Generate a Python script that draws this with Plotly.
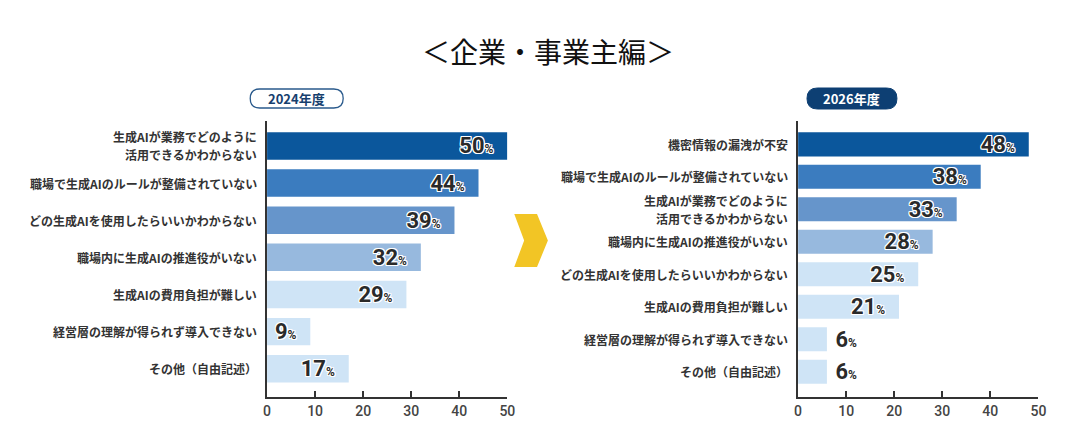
import plotly.graph_objects as go

# ---------------- data ----------------
title_text = "＜企業・事業主編＞"
badge_2024 = "2024年度"
badge_2026 = "2026年度"

cats_2024 = [
    "生成AIが業務でどのように<br>活用できるかわからない",
    "職場で生成AIのルールが整備されていない",
    "どの生成AIを使用したらいいかわからない",
    "職場内に生成AIの推進役がいない",
    "生成AIの費用負担が難しい",
    "経営層の理解が得られず導入できない",
    "その他（自由記述）",
]
vals_2024 = [50, 44, 39, 32, 29, 9, 17]

cats_2026 = [
    "機密情報の漏洩が不安",
    "職場で生成AIのルールが整備されていない",
    "生成AIが業務でどのように<br>活用できるかわからない",
    "職場内に生成AIの推進役がいない",
    "どの生成AIを使用したらいいかわからない",
    "生成AIの費用負担が難しい",
    "経営層の理解が得られず導入できない",
    "その他（自由記述）",
]
vals_2026 = [48, 38, 33, 28, 25, 21, 6, 6]

x_ticks = [0, 10, 20, 30, 40, 50]

# ---------------- style ----------------
W, H = 1080, 441
JP = "Noto Sans CJK JP"
NUM = "Roboto"
shade = ["#0b579c", "#3b7cbf", "#6695cb", "#97b9de", "#cfe4f6", "#cfe4f6", "#cfe4f6", "#cfe4f6"]
outline = ("1px 1px 0 #fff, -1px -1px 0 #fff, 1px -1px 0 #fff, -1px 1px 0 #fff, "
           "0 1px 0 #fff, 0 -1px 0 #fff, 1px 0 0 #fff, -1px 0 0 #fff")
LINE_GAP = 18  # px between lines of a wrapped category label


def px(x):
    return x / W


def py(y):
    return 1 - y / H


def label(v):
    return f"<b>{v}</b><span style='font-size:12px'><b>%</b></span>  "


def pill(x0, x1, y0, y1):
    r = (y1 - y0) / 2
    pts = [
        f"M {px(x0 + r)} {py(y0)}",
        f"L {px(x1 - r)} {py(y0)}",
        f"Q {px(x1)} {py(y0)} {px(x1)} {py(y0 + r)}",
        f"Q {px(x1)} {py(y1)} {px(x1 - r)} {py(y1)}",
        f"L {px(x0 + r)} {py(y1)}",
        f"Q {px(x0)} {py(y1)} {px(x0)} {py(y0 + r)}",
        f"Q {px(x0)} {py(y0)} {px(x0 + r)} {py(y0)} Z",
    ]
    return " ".join(pts)


fig = go.Figure()

for vals, cats, xa, ya in [
    (vals_2024, cats_2024, "x", "y"),
    (vals_2026, cats_2026, "x2", "y2"),
]:
    fig.add_trace(go.Bar(
        x=vals,
        y=cats,
        orientation="h",
        xaxis=xa,
        yaxis=ya,
        marker=dict(color=shade[:len(vals)], line=dict(width=0)),
        text=[label(v) if v >= 8 else " " + label(v) for v in vals],
        textposition=["inside" if v >= 8 else "outside" for v in vals],
        insidetextanchor="end",
        constraintext="none",
        textangle=0,
        textfont=dict(family=NUM, size=22, color="#2a2a2a", shadow=outline),
        cliponaxis=False,
        hoverinfo="skip",
        width=0.74,
    ))
    # category labels (one annotation per line, for controlled line spacing)
    for c in cats:
        lines = c.split("<br>")
        n = len(lines)
        for i, ln in enumerate(lines):
            fig.add_annotation(
                text=ln, x=0, y=c, xref=xa, yref=ya,
                xanchor="right", yanchor="middle", xshift=-8,
                yshift=((n - 1) / 2 - i) * LINE_GAP,
                showarrow=False,
                font=dict(family=JP, size=12, color="#333333", weight=600),
            )

ax_common = dict(
    range=[0, 50],
    tickvals=x_ticks,
    ticks="inside",
    ticklen=6,
    tickwidth=2,
    tickcolor="#333333",
    showline=True,
    linewidth=2,
    linecolor="#333333",
    showgrid=False,
    zeroline=False,
    tickfont=dict(family=NUM, size=14, color="#444444", weight=500),
    fixedrange=True,
)
ay_common = dict(
    showline=True,
    linewidth=2,
    linecolor="#333333",
    showgrid=False,
    zeroline=False,
    ticks="",
    showticklabels=False,
    fixedrange=True,
)

fig.update_layout(
    width=W,
    height=H,
    margin=dict(l=0, r=0, t=0, b=0),
    paper_bgcolor="white",
    plot_bgcolor="white",
    showlegend=False,
    barmode="overlay",
    xaxis=dict(domain=[px(266), px(509)], anchor="y", **ax_common),
    xaxis2=dict(domain=[px(803), px(1046)], anchor="y2", **ax_common),
    yaxis=dict(domain=[py(397), py(121)], anchor="x", range=[6.76, -0.67], **ay_common),
    yaxis2=dict(domain=[py(397), py(121)], anchor="x2", range=[7.78, -0.72], **ay_common),
)

# title
fig.add_annotation(
    text=title_text, x=px(550), y=py(51), xref="paper", yref="paper",
    showarrow=False, xanchor="center", yanchor="middle",
    font=dict(family=JP, size=28, color="#111111"),
)

# badges
fig.add_shape(type="path", path=pill(249, 343, 89, 108), xref="paper", yref="paper",
              line=dict(color="#2a5a8c", width=1.3), fillcolor="white", layer="above")
fig.add_annotation(text=f"<b>{badge_2024}</b>", x=px(296), y=py(98.5), xref="paper", yref="paper",
                   xanchor="center", yanchor="middle",
                   showarrow=False, font=dict(family=JP, size=13, color="#16406e"))
fig.add_shape(type="path", path=pill(812, 903, 88, 109), xref="paper", yref="paper",
              line=dict(color="#0d3f73", width=1), fillcolor="#0d3f73", layer="above")
fig.add_annotation(text=f"<b>{badge_2026}</b>", x=px(857.5), y=py(98.5), xref="paper", yref="paper",
                   xanchor="center", yanchor="middle",
                   showarrow=False, font=dict(family=JP, size=13, color="white"))

# chevron arrow between the charts
chev = [(516, 214), (539, 214), (550, 240.5), (539, 267), (516, 267), (526, 240.5)]
path = "M " + " L ".join(f"{px(a)} {py(b)}" for a, b in chev) + " Z"
fig.add_shape(type="path", path=path, xref="paper", yref="paper",
              line=dict(width=0), fillcolor="#f2c525", layer="above")

fig.write_html(
    "out.html",
    config={"displayModeBar": False},
    post_script=("document.documentElement.style.overflow='hidden';"
                 "document.body.style.overflow='hidden';"
                 "document.body.style.margin='0';"),
)
